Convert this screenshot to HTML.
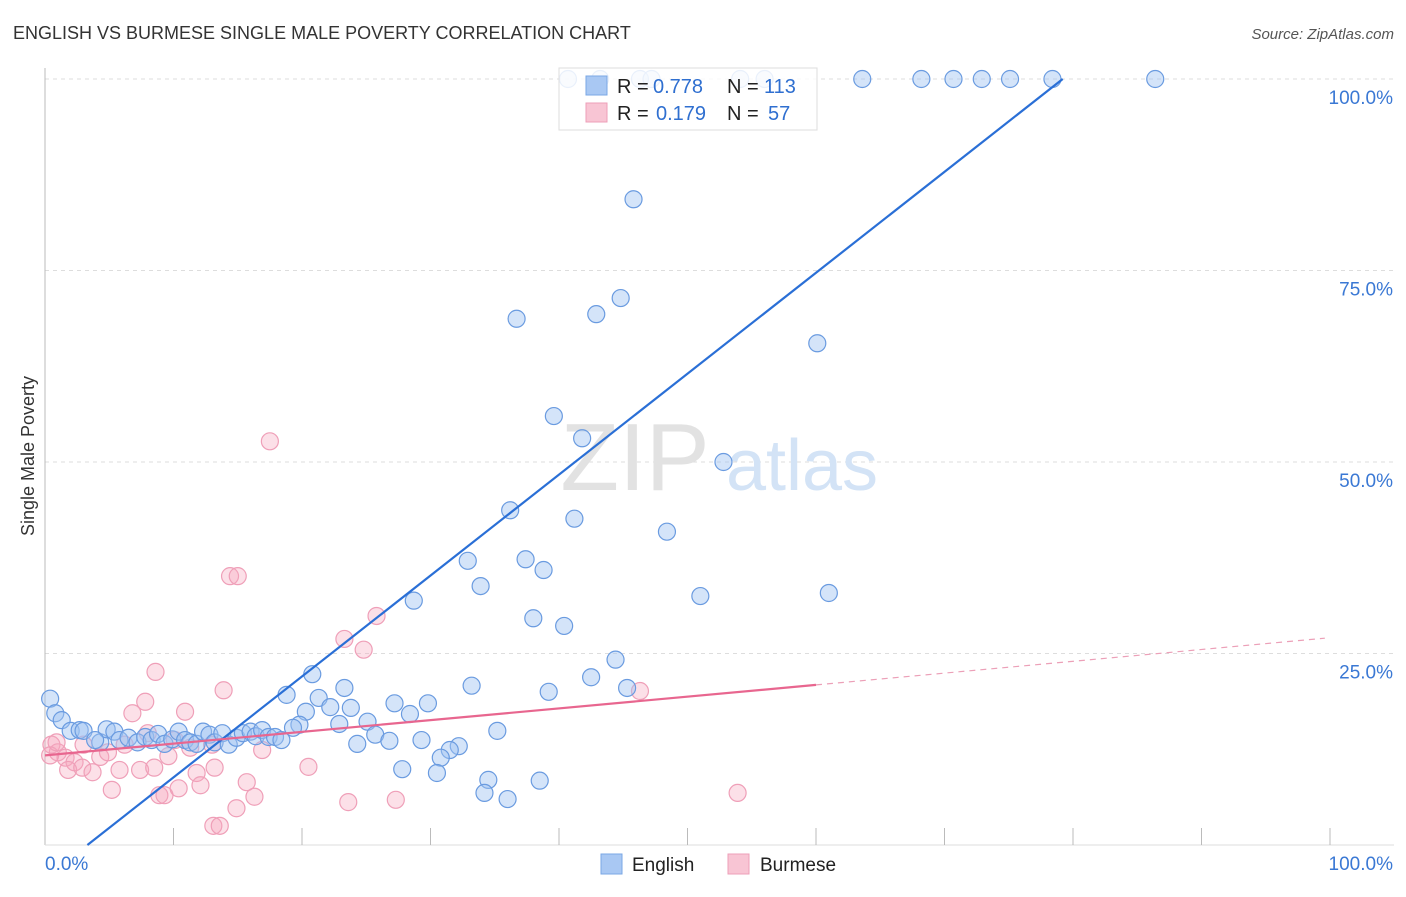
<!DOCTYPE html>
<html><head><meta charset="utf-8"><style>
body{margin:0;background:#fff;font-family:"Liberation Sans",sans-serif;}
svg text{font-family:"Liberation Sans",sans-serif;}
</style></head><body>
<svg id="chart" width="1406" height="892" viewBox="0 0 1406 892" xmlns="http://www.w3.org/2000/svg">
<text x="13" y="39" font-size="18" fill="#333">ENGLISH VS BURMESE SINGLE MALE POVERTY CORRELATION CHART</text>
<text x="1394" y="39" font-size="15" fill="#555" font-style="italic" text-anchor="end">Source: ZipAtlas.com</text>
<text transform="translate(34,456) rotate(-90)" font-size="18" fill="#333" text-anchor="middle">Single Male Poverty</text>
<g id="grid"></g>
<g id="wm"><text x="635" y="490" font-size="96" fill="#e2e2e2" text-anchor="middle" font-family="Liberation Serif,serif">ZIP</text><text x="802" y="490" font-size="72" fill="#d3e3f6" text-anchor="middle">atlas</text></g>
<g id="pts"></g>
<g id="lines"></g>
<g>
<rect x="559" y="68" width="258" height="62" fill="#fff" fill-opacity="0.85" stroke="#ddd"/>
<rect x="586" y="76" width="21" height="19" fill="#a9c8f3" stroke="#7aa7e4"/>
<rect x="586" y="103" width="21" height="19" fill="#f8c5d4" stroke="#ee9fb8"/>
<text x="617" y="93" font-size="20" fill="#222">R =</text>
<text x="653" y="93" font-size="20" fill="#2f6fd0">0.778</text>
<text x="727" y="93" font-size="20" fill="#222">N =</text>
<text x="764" y="93" font-size="20" fill="#2f6fd0">113</text>
<text x="617" y="120" font-size="20" fill="#222">R =</text>
<text x="656" y="120" font-size="20" fill="#2f6fd0">0.179</text>
<text x="727" y="120" font-size="20" fill="#222">N =</text>
<text x="768" y="120" font-size="20" fill="#2f6fd0">57</text>
</g>
<g>
<rect x="601" y="854" width="21" height="20" fill="#a9c8f3" stroke="#7aa7e4"/>
<text x="632" y="871" font-size="19" fill="#222">English</text>
<rect x="728" y="854" width="21" height="20" fill="#f8c5d4" stroke="#ee9fb8"/>
<text x="760" y="871" font-size="19" fill="#222">Burmese</text>
</g>
</svg>
<script>
const yTicks=[25,50,75,100];
const yTickLabels=["25.0%","50.0%","75.0%","100.0%"];
const xTicks=[10,20,30,40,50,60,70,80,90,100];
const englishX=[40.7,43.2,46.3,47.2,54.1,56.0,63.6,68.2,70.7,72.9,75.1,78.4,86.4,45.8,44.8,42.9,36.7,60.1,39.6,41.8,52.8,36.2,41.2,48.4,32.9,37.4,38.8,33.9,61.0,51.0,28.7,38.0,40.4,44.4,42.5,45.3,39.2,33.2,20.8,23.3,18.8,21.3,29.8,27.2,20.3,22.2,23.8,28.4,19.8,19.3,25.1,22.9,35.2,25.7,26.8,24.3,29.3,32.2,31.5,30.8,30.5,27.8,34.5,34.2,36.0,38.5,0.4,0.8,1.3,2.0,2.7,3.0,4.3,4.8,5.4,5.8,6.5,7.2,7.8,8.3,8.8,9.3,9.9,10.4,10.9,11.3,11.8,12.3,12.8,13.2,13.8,14.3,14.9,15.4,16.0,16.4,16.9,17.4,17.9,18.4,3.9];
const englishY=[100,100,100,100,100,100,100,100,100,100,100,100,100,84.3,71.4,69.3,68.7,65.5,56.0,53.1,50.0,43.7,42.6,40.9,37.1,37.3,35.9,33.8,32.9,32.5,31.9,29.6,28.6,24.2,21.9,20.5,20.0,20.8,22.3,20.5,19.6,19.2,18.5,18.5,17.4,18.0,17.9,17.1,15.7,15.3,16.1,15.8,14.9,14.4,13.6,13.2,13.7,12.9,12.4,11.4,9.4,9.9,8.5,6.8,6.0,8.4,19.1,17.2,16.3,14.9,15.0,14.9,13.4,15.1,14.8,13.7,14.0,13.4,14.1,13.7,14.5,13.2,13.8,14.8,13.7,13.4,13.2,14.8,14.4,13.4,14.6,13.1,14.0,14.6,14.8,14.2,15.0,14.1,14.1,13.7,13.7];
const burmeseX=[17.5,14.4,15.0,25.8,23.3,24.8,8.6,13.9,7.8,46.3,10.9,6.8,8.0,10.1,0.5,1.0,1.6,2.3,1.8,2.9,3.7,4.3,4.9,3.0,6.2,5.8,7.4,8.5,9.6,11.3,13.0,16.9,11.8,13.2,15.7,12.1,5.2,8.9,9.3,10.4,16.3,14.9,13.1,13.6,20.5,23.6,27.3,53.9,0.4,0.9];
const burmeseY=[52.7,35.1,35.1,29.9,26.9,25.5,22.6,20.2,18.7,20.1,17.4,17.2,14.6,13.7,13.1,12.1,11.4,10.8,9.8,10.1,9.5,11.5,12.1,13.1,13.1,9.8,9.8,10.1,11.6,12.7,13.1,12.4,9.4,10.1,8.2,7.8,7.2,6.5,6.5,7.4,6.3,4.8,2.5,2.5,10.2,5.6,5.9,6.8,11.7,13.4];
const englishLine=[[3.3,0],[79.2,100]];
const burmeseLine=[[0,11.7],[60,20.9]];
const burmeseDash=[[60,20.9],[99.6,27.0]];
const NS="http://www.w3.org/2000/svg";
const X=v=>45+v*12.85, Y=v=>845-v*7.66;
function mk(t,a,p){const e=document.createElementNS(NS,t);for(const k in a)e.setAttribute(k,a[k]);p.appendChild(e);return e;}
const grid=document.getElementById('grid');
yTicks.forEach((t,i)=>{
 const l=mk('line',{x1:45,x2:1394,y1:Y(t),y2:Y(t),stroke:'#ddd','stroke-dasharray':'4,4'},grid);
 
 
 const tx=mk('text',{x:1393,y:Y(t)+25,'font-size':19,fill:'#3a78d4','text-anchor':'end'},grid);
 tx.textContent=yTickLabels[i];
 
 
});
const ax=mk('line',{x1:45,x2:45,y1:68,y2:845,stroke:'#bbb'},grid);


const bx=mk('line',{x1:45,x2:1394,y1:845,y2:845,stroke:'#ddd'},grid);


xTicks.forEach(t=>{
 const l=mk('line',{x1:X(t),x2:X(t),y1:828,y2:845,stroke:'#bbb'},grid);
 
 
});
const x0=mk('text',{x:45,y:870,'font-size':19,fill:'#3a78d4'},grid);x0.textContent='0.0%';


const x1=mk('text',{x:1393,y:870,'font-size':19,fill:'#3a78d4','text-anchor':'end'},grid);x1.textContent='100.0%';


const pts=document.getElementById('pts');
burmeseX.forEach((v,i)=>{
 const c=mk('circle',{cx:X(v),cy:Y(burmeseY[i]),r:8.5,fill:'rgba(245,165,188,0.35)',stroke:'#ef9fb8','stroke-width':1.2},pts);
 
 
});
englishX.forEach((v,i)=>{
 const c=mk('circle',{cx:X(v),cy:Y(englishY[i]),r:8.5,fill:'rgba(160,195,242,0.45)',stroke:'#6a9be0','stroke-width':1.2},pts);
 
 
});
const lines=document.getElementById('lines');
const le=mk('line',{x1:X(englishLine[0][0]),y1:Y(englishLine[0][1]),x2:X(englishLine[1][0]),y2:Y(englishLine[1][1]),stroke:'#2a6fd6','stroke-width':2.2},lines);


const lb=mk('line',{x1:X(burmeseLine[0][0]),y1:Y(burmeseLine[0][1]),x2:X(burmeseLine[1][0]),y2:Y(burmeseLine[1][1]),stroke:'#e8668f','stroke-width':2.2},lines);


const ld=mk('line',{x1:X(burmeseDash[0][0]),y1:Y(burmeseDash[0][1]),x2:X(burmeseDash[1][0]),y2:Y(burmeseDash[1][1]),stroke:'#eca0b8','stroke-width':1.2,'stroke-dasharray':'6,5'},lines);


</script>
</body></html>
